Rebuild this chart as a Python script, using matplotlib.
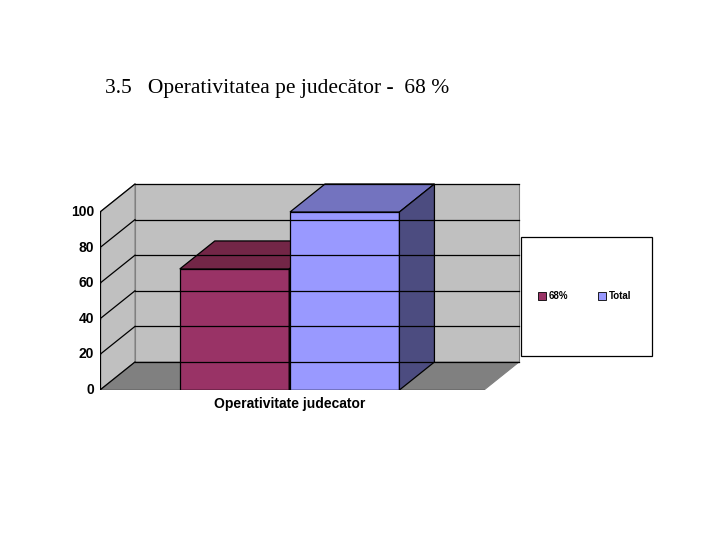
import matplotlib
matplotlib.use("Agg")
import matplotlib.pyplot as plt
from matplotlib.patches import Polygon, Rectangle

categories = ["Operativitate judecator"]
series_names = ["68%", "Total"]
values = [68, 100]
yticks = [0, 20, 40, 60, 80, 100]
front_c = ["#993366", "#9999FF"]
top_c = ["#732647", "#7373BF"]
side_c = ["#4D1A33", "#4C4C80"]

fig = plt.figure(figsize=(7.2, 5.4), dpi=100)
W, H = 720, 540
pxu = 1.78
ax = fig.add_axes([100 / W, 150 / H, 380 * 1.15 / W, pxu * 120 / H])
ax.set_xlim(0, 1.15)
ax.set_ylim(0, 120)
ax.axis("off")
dx, D = 35 / 380, 28 / pxu
xr = (519 - 100) / 380
ymax = yticks[-1]

# walls
ax.add_patch(Polygon([(dx, D), (xr, D), (xr, ymax + D), (dx, ymax + D)], fc="#C0C0C0", ec="#808080", lw=0.8))
ax.add_patch(Polygon([(0, 0), (dx, D), (dx, ymax + D), (0, ymax)], fc="#C0C0C0", ec="#808080", lw=0.8))
ax.add_patch(Polygon([(0, 0), (xr - dx, 0), (xr, D), (dx, D)], fc="#808080", ec="#808080", lw=0.8))
for t in yticks:
    ax.plot([dx, xr], [t + D, t + D], color="black", lw=0.9)
    ax.plot([0, dx], [t, t + D], color="black", lw=0.9)
    ax.plot([-0.012, 0], [t, t], color="black", lw=0.9)
    ax.text(-0.015, t, str(t), ha="right", va="center", fontsize=10, fontweight="bold", family="Liberation Sans")
ax.plot([0, 0], [0, ymax], color="black", lw=0.9)
ax.plot([0, xr - dx], [0, 0], color="black", lw=0.9)

# bars
lefts = [0.21, 0.5]
w = 0.288
for i, v in enumerate(values):
    x0 = lefts[i]
    ax.add_patch(Rectangle((x0, 0), w, v, fc=front_c[i], ec="black", lw=0.9))
    ax.add_patch(Polygon([(x0, v), (x0 + w, v), (x0 + w + dx, v + D), (x0 + dx, v + D)], fc=top_c[i], ec="black", lw=0.9))
    ax.add_patch(Polygon([(x0 + w, 0), (x0 + w + dx, D), (x0 + w + dx, v + D), (x0 + w, v)], fc=side_c[i], ec="black", lw=0.9))

ax.text(0.5, -8, categories[0], ha="center", va="center", fontsize=10, fontweight="bold", family="Liberation Sans")

fig.text(105 / W, 1 - 88 / H, "3.5   Operativitatea pe judecător -  68 %", ha="left", va="center",
         fontsize=15.5, family="Liberation Serif")

# legend
fig.patches.append(Rectangle((521 / W, 1 - 356 / H), 131 / W, 119 / H, transform=fig.transFigure,
                             fc="white", ec="black", lw=0.9))
lx = [538, 598]
for i, name in enumerate(series_names):
    fig.patches.append(Rectangle((lx[i] / W, 1 - 300 / H), 8 / W, 8 / H, transform=fig.transFigure,
                                 fc=front_c[i], ec="black", lw=0.6))
    fig.text((lx[i] + 11) / W, 1 - 296 / H, name, ha="left", va="center", fontsize=7,
             fontweight="bold", family="Liberation Sans")

fig.savefig("out.png", dpi=100)
